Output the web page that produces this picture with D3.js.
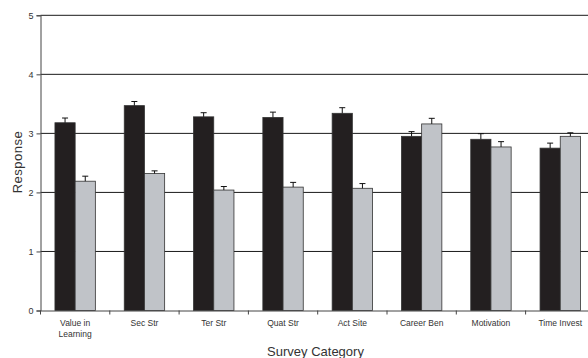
<!DOCTYPE html>
<html><head><meta charset="utf-8">
<script src="https://cdn.jsdelivr.net/npm/d3@7"></script>
<style>body{margin:0;background:#fff}svg{display:block}</style>
</head><body>
<script>
const categories = ["Value in\nLearning","Sec Str","Ter Str","Quat Str","Act Site","Career Ben","Motivation","Time Invest"];
const seriesA = [3.18,3.47,3.28,3.27,3.34,2.95,2.90,2.75];
const errorsA = [0.08,0.07,0.07,0.09,0.095,0.08,0.095,0.085];
const seriesB = [2.19,2.32,2.04,2.09,2.07,3.16,2.77,2.95];
const errorsB = [0.085,0.045,0.06,0.08,0.08,0.095,0.09,0.06];
const yTicks = [0,1,2,3,4,5];

const W = 588, H = 358;
const svg = d3.select("body").append("svg").attr("width", W).attr("height", H)
  .style("font-family", "'Liberation Sans', Arial, sans-serif");

const x0 = 40.5, plotW = 8*69.3;
const x = d3.scaleBand().domain(categories).range([x0, x0+plotW]).paddingInner(0).paddingOuter(0);
const y = d3.scaleLinear().domain([0,5]).range([310.5, 15.3]);
const series = [{vals: seriesA, errs: errorsA, fill: "#231f20"}, {vals: seriesB, errs: errorsB, fill: "#c0c3c8"}];
const barW = 20.2;
const groupOff = (x.bandwidth() - 2*barW)/2;

// gridlines
svg.append("g").selectAll("line").data(yTicks.filter(d=>d>0)).join("line")
  .attr("x1", x0).attr("x2", x0+plotW).attr("y1", d=>y(d)).attr("y2", d=>y(d))
  .attr("stroke", "#1a1a1a").attr("stroke-width", 1);

// bars
series.forEach((s, si) => {
  const g = svg.append("g");
  g.selectAll("rect").data(categories).join("rect")
    .attr("x", (c) => x(c) + groupOff + si*barW)
    .attr("y", (c,i) => y(s.vals[i]))
    .attr("width", barW)
    .attr("height", (c,i) => y(0) - y(s.vals[i]))
    .attr("fill", s.fill).attr("stroke", "#333").attr("stroke-width", 0.8);
  const eg = svg.append("g").attr("stroke", "#111").attr("stroke-width", 1);
  categories.forEach((c, i) => {
    const cx = x(c) + groupOff + si*barW + barW/2;
    eg.append("line").attr("x1", cx).attr("x2", cx).attr("y1", y(s.vals[i])).attr("y2", y(s.vals[i]+s.errs[i]));
    eg.append("line").attr("x1", cx-3).attr("x2", cx+3).attr("y1", y(s.vals[i]+s.errs[i])).attr("y2", y(s.vals[i]+s.errs[i]));
  });
});

// y axis
const yAxis = d3.axisLeft(y).tickValues(yTicks).tickSize(4).tickPadding(3).tickFormat(d3.format("d"));
const ya = svg.append("g").attr("transform", `translate(${x0},0)`).call(yAxis);
ya.select(".domain").attr("stroke", "#444");
ya.selectAll(".tick line").attr("stroke", "#444");
ya.selectAll(".tick text").attr("font-size", 9).attr("fill", "#333").style("font-family", "'Liberation Sans', Arial, sans-serif");

// x axis
const xAxis = d3.axisBottom(x).tickSize(0).tickFormat("");
const xa = svg.append("g").attr("transform", `translate(0,${y(0)})`).call(xAxis);
xa.select(".domain").attr("stroke", "#444");
svg.append("g").selectAll("line").data(categories).join("line")
  .attr("x1", c => x(c)).attr("x2", c => x(c)).attr("y1", y(0)).attr("y2", y(0)+4)
  .attr("stroke", "#444");
const lab = svg.append("g");
categories.forEach(c => {
  const lines = c.split("\n");
  const t = lab.append("text").attr("x", x(c) + x.bandwidth()/2).attr("y", 326)
    .attr("text-anchor", "middle").attr("font-size", 8.5).attr("fill", "#333");
  lines.forEach((ln, k) => t.append("tspan").attr("x", x(c) + x.bandwidth()/2).attr("dy", k ? 10.5 : 0).text(ln));
});

// axis titles
svg.append("text").attr("x", 315.5).attr("y", 355.5).attr("text-anchor", "middle")
  .attr("font-size", 13).attr("fill", "#333").text("Survey Category");
svg.append("text").attr("transform", "translate(21.5,162) rotate(-90)").attr("text-anchor", "middle")
  .attr("font-size", 13).attr("letter-spacing", 0.5).attr("fill", "#333").text("Response");
</script>
</body></html>
